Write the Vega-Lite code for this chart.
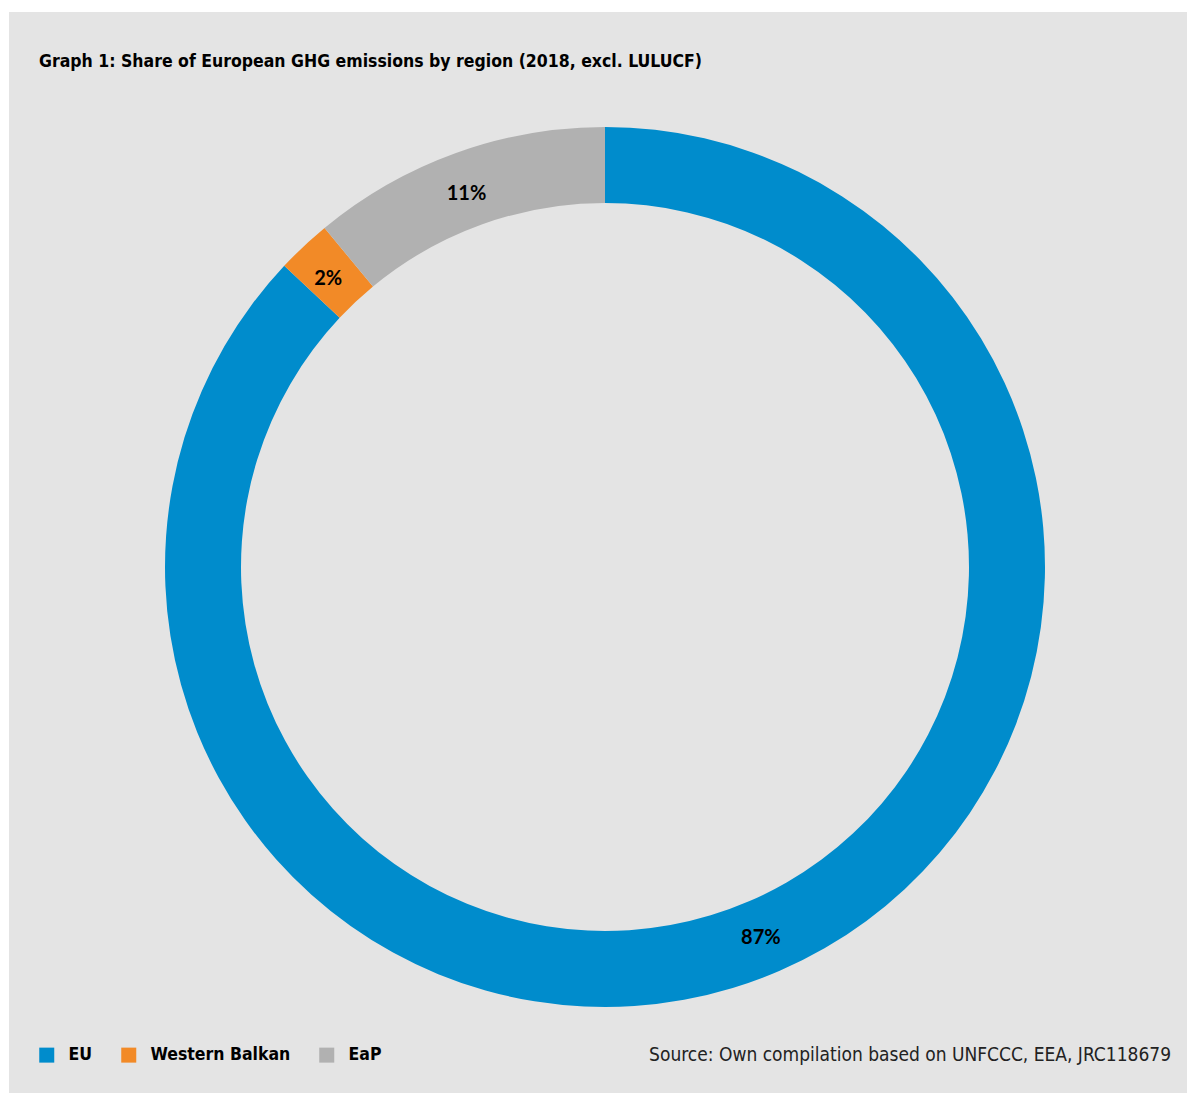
{
  "$schema": "https://vega.github.io/schema/vega-lite/v6.json",
  "width": 1178,
  "height": 1081,
  "autosize": {"type": "none"},
  "padding": {"left": 9, "top": 12, "right": 0, "bottom": 0},
  "background": "#ffffff",
  "config": {"view": {"fill": "#e4e4e4", "stroke": null}},
  "title": {
    "text": "Graph 1: Share of European GHG emissions by region (2018, excl. LULUCF)",
    "orient": "top",
    "anchor": "start",
    "frame": "group",
    "offset": -72,
    "dx": 30,
    "baseline": "alphabetic",
    "font": "DejaVu Sans Condensed, Roboto",
    "fontSize": 17.5,
    "fontWeight": "bold",
    "color": "#000000"
  },
  "data": {
    "values": [
      {"region": "EU", "value": 87, "label": "87%", "order": 1},
      {"region": "Western Balkan", "value": 2, "label": "2%", "order": 2},
      {"region": "EaP", "value": 11, "label": "11%", "order": 3}
    ]
  },
  "layer": [
    {
      "mark": {"type": "arc", "outerRadius": 440, "innerRadius": 364, "xOffset": 7, "yOffset": 14.5},
      "encoding": {
        "theta": {"field": "value", "type": "quantitative", "stack": true},
        "order": {"field": "order", "type": "quantitative"},
        "color": {
          "field": "region",
          "type": "nominal",
          "scale": {"domain": ["EU", "Western Balkan", "EaP"], "range": ["#008ccc", "#f28a27", "#b1b1b1"]},
          "legend": {
            "title": null,
            "orient": "none",
            "legendX": 29,
            "legendY": 1034,
            "direction": "horizontal",
            "padding": 0,
            "symbolType": "square",
            "symbolSize": 225,
            "symbolStrokeWidth": 0,
            "symbolOpacity": 1,
            "labelFont": "DejaVu Sans Condensed, Roboto",
            "labelFontSize": 17.5,
            "labelFontWeight": "bold",
            "labelColor": "#000000",
            "labelOffset": 13,
            "columnPadding": 27,
            "labelLimit": 300
          }
        }
      }
    },
    {
      "mark": {"type": "text", "radius": 400, "xOffset": 4, "yOffset": 18, "font": "Lato", "fontSize": 20, "fontWeight": "bold", "color": "#000000", "baseline": "middle", "align": "center"},
      "encoding": {
        "theta": {"field": "value", "type": "quantitative", "stack": true},
        "order": {"field": "order", "type": "quantitative"},
        "text": {"field": "label", "type": "nominal"}
      }
    },
    {
      "data": {"values": [{"note": "Source: Own compilation based on UNFCCC, EEA, JRC118679"}]},
      "mark": {"type": "text", "align": "right", "baseline": "alphabetic", "dx": -16, "dy": -32, "font": "DejaVu Sans Condensed, Roboto", "fontSize": 19, "color": "#222222"},
      "encoding": {
        "x": {"value": "width"},
        "y": {"value": "height"},
        "text": {"field": "note", "type": "nominal"}
      }
    }
  ]
}
